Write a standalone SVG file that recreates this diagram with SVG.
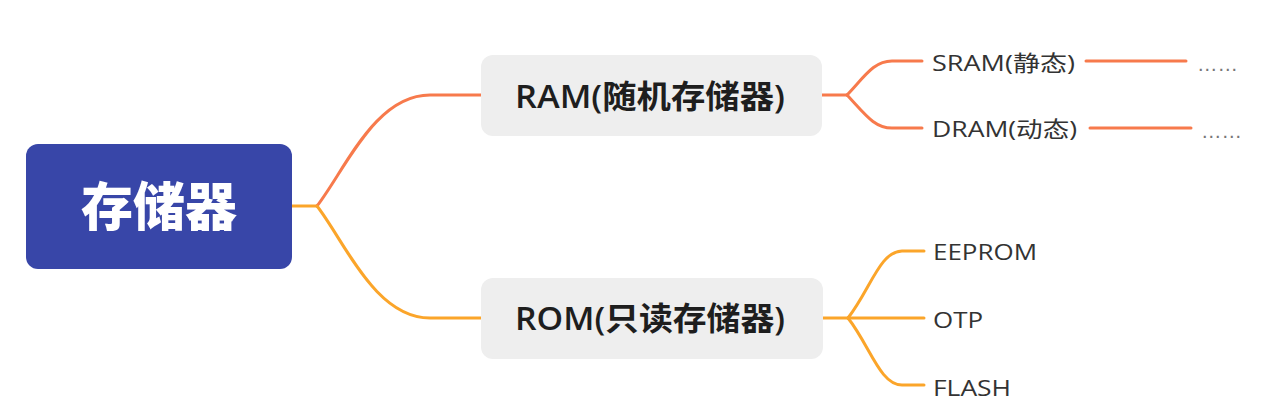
<svg xmlns="http://www.w3.org/2000/svg" width="1268" height="411" viewBox="0 0 1268 411">
<style>
.conn{fill:none;stroke-width:3;stroke-linecap:round;stroke-linejoin:round}
.c1{stroke:#F77A4C}
.c2{stroke:#FBA52A}
.root{fill:#3846A8}
.sub{fill:#EEEEEE}
.tr{font-family:"Noto Sans CJK SC",sans-serif;font-weight:900;font-size:52px;fill:#FFFFFF}
.ts{font-family:"Open Sans","Noto Sans CJK SC",sans-serif;font-weight:600;font-size:32px;fill:#1E1E1E}
.tl{font-family:"Open Sans","Noto Sans CJK SC",sans-serif;font-size:22px;fill:#333333}
.td{font-family:"Liberation Sans",sans-serif;font-size:20px;fill:#777777}
</style>
<rect width="1268" height="411" fill="#FFFFFF"/>
<g id="connectors">
<path class="conn c2" d="M292,206 L317,206"/>
<path class="conn c1" d="M317,206 C345,170 375,95 430,95 L481,95"/>
<path class="conn c2" d="M317,206 C345,242 375,318 430,318 L481,318"/>
<path class="conn c1" d="M822,95 L847,95"/>
<path class="conn c1" d="M847,95 C865,76 874,61 892,61 L922,61"/>
<path class="conn c1" d="M847,95 C865,114 874,128 892,128 L922,128"/>
<path class="conn c1" d="M1086,61 L1186,61"/>
<path class="conn c1" d="M1090,128 L1191,128"/>
<path class="conn c2" d="M823,318 L848,318"/>
<path class="conn c2" d="M848,318 C870,290 880,251 902,251 L924,251"/>
<path class="conn c2" d="M848,318 L924,318"/>
<path class="conn c2" d="M848,318 C870,346 880,385 902,385 L924,385"/>
</g>
<g id="root">
<rect class="root" x="26" y="144" width="266" height="125" rx="12"/>
<text class="tr" x="159" y="226" text-anchor="middle">存储器</text>
</g>
<g id="ram">
<rect class="sub" x="481" y="55" width="341" height="81" rx="12"/>
<text class="ts" x="515" y="108" textLength="270" lengthAdjust="spacingAndGlyphs">RAM(随机存储器)</text>
</g>
<g id="rom">
<rect class="sub" x="481" y="278" width="342" height="81" rx="12"/>
<text class="ts" x="515" y="330" textLength="270" lengthAdjust="spacingAndGlyphs">ROM(只读存储器)</text>
</g>
<g id="sram">
<text class="tl" x="932" y="71" textLength="143" lengthAdjust="spacingAndGlyphs">SRAM(静态)</text>
</g>
<g id="sram-more">
<text class="td" x="1197" y="71" textLength="41" lengthAdjust="spacingAndGlyphs">……</text>
</g>
<g id="dram">
<text class="tl" x="932" y="137" textLength="145" lengthAdjust="spacingAndGlyphs">DRAM(动态)</text>
</g>
<g id="dram-more">
<text class="td" x="1201" y="138" textLength="41" lengthAdjust="spacingAndGlyphs">……</text>
</g>
<g id="eeprom">
<text class="tl" x="933" y="260" textLength="104" lengthAdjust="spacingAndGlyphs">EEPROM</text>
</g>
<g id="otp">
<text class="tl" x="933" y="328" textLength="50" lengthAdjust="spacingAndGlyphs">OTP</text>
</g>
<g id="flash">
<text class="tl" x="933" y="396" textLength="78" lengthAdjust="spacingAndGlyphs">FLASH</text>
</g>
</svg>
